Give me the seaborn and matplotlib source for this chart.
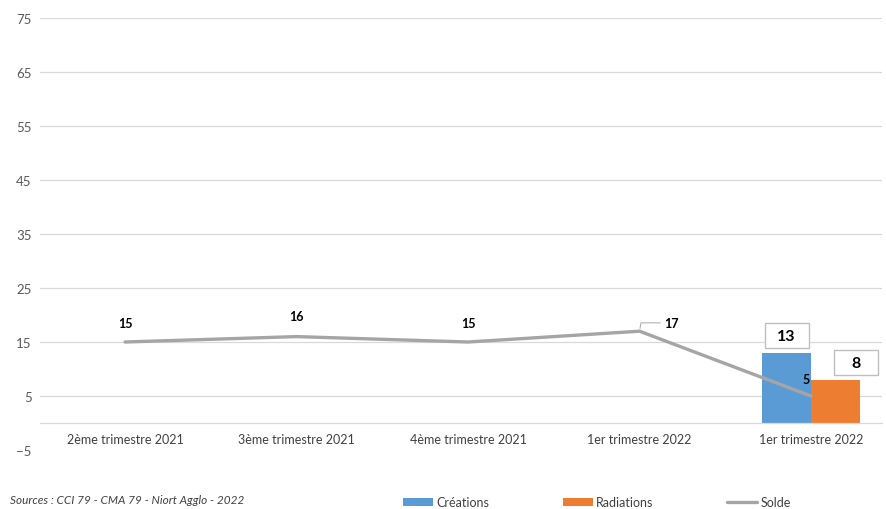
import matplotlib.pyplot as plt
import pandas as pd
import seaborn as sns
from matplotlib.lines import Line2D
from matplotlib.patches import Patch, Rectangle

# data
categories = [
    "2ème trimestre 2021",
    "3ème trimestre 2021",
    "4ème trimestre 2021",
    "1er trimestre 2022",
    "1er trimestre 2022",
]
solde = [15, 16, 15, 17, 5]
bar_series = ["Créations", "Radiations"]
bar_values = [13, 8]
bar_category = 4
y_ticks = [-5, 5, 15, 25, 35, 45, 55, 65, 75]
source = "Sources : CCI 79 - CMA 79 - Niort Agglo - 2022"

BLUE = "#5B9BD5"
ORANGE = "#ED7D31"
GREY = "#A5A5A5"
GRID = "#D9D9D9"

sns.set_theme(style="white")
plt.rcParams["font.family"] = ["Lato", "DejaVu Sans"]

fig = plt.figure(figsize=(8.86, 5.10), dpi=100)
ax = fig.add_axes([40 / 886, 59 / 510, 842 / 886, 432 / 510])

positions = list(range(len(categories)))
line_df = pd.DataFrame({"pos": positions, "Solde": solde})
bars_df = pd.DataFrame({
    "pos": [bar_category] * len(bar_series),
    "serie": bar_series,
    "value": bar_values,
})

# gridlines (the bottom tick is the frame edge, no line drawn there)
for t in y_ticks[1:]:
    ax.axhline(t, color=GRID, lw=0.9, zorder=0)

sns.barplot(data=bars_df, x="pos", y="value", hue="serie", native_scale=True,
            palette=[BLUE, ORANGE], width=0.57, saturation=1, errorbar=None,
            legend=False, linewidth=0, ax=ax, zorder=1)
sns.lineplot(data=line_df, x="pos", y="Solde", color=GREY, linewidth=2.4,
             ax=ax, zorder=3)

ax.set_xlim(-0.496, 4.414)
ax.set_ylim(-5, 75)

# data labels of the line
offsets = [(0, 14), (0, 15), (0, 14), (18, 6), (-1, 12)]
for i, (x, y) in enumerate(zip(positions, solde)):
    dx, dy = offsets[i]
    if dx > 10:
        ax.annotate(str(y), (x, y), xytext=(dx, dy), textcoords="offset points",
                    ha="left", va="center", fontsize=9, fontweight="bold",
                    color="#000000", zorder=4)
        ax.annotate("", (x, y), xytext=(dx - 3, dy), textcoords="offset points",
                    arrowprops=dict(arrowstyle="-", color="#A5A5A5", lw=0.7,
                                    connectionstyle="angle,angleA=0,angleB=80,rad=0",
                                    shrinkA=0, shrinkB=2))
    else:
        ax.annotate(str(y), (x, y), xytext=(dx, dy), textcoords="offset points",
                    ha="center" if dx == 0 else "right", va="center",
                    fontsize=9, fontweight="bold", color="#000000", zorder=4)

# boxed labels of the bars (fixed size boxes, second one pushed right)
box_w = 44 / 171.5      # 44 px in data units
box_h = 4.7
box_shift = [0.0, 21 / 171.5]
for bar, val, shift in zip(ax.patches, bar_values, box_shift):
    cx = bar.get_x() + bar.get_width() / 2 + shift
    y0 = val + 0.8
    ax.add_patch(Rectangle((cx - box_w / 2, y0), box_w, box_h, facecolor="white",
                           edgecolor="#BFBFBF", lw=1.0, zorder=5))
    ax.text(cx, y0 + box_h / 2 - 0.1, str(val), ha="center", va="center",
            fontsize=11.5, fontweight="bold", color="#000000", zorder=6)

ax.set_yticks(y_ticks)
ax.set_xticks(positions)
ax.set_xticklabels(categories)
ax.set_xlabel("")
ax.set_ylabel("")

for side in ["top", "right", "left"]:
    ax.spines[side].set_visible(False)
ax.spines["bottom"].set_position(("data", 0))
ax.spines["bottom"].set_color(GRID)
ax.spines["bottom"].set_linewidth(0.9)
ax.tick_params(axis="x", length=0, pad=7, labelsize=9, labelcolor="#404040")
ax.tick_params(axis="y", length=0, pad=6, labelsize=9.5, labelcolor="#595959")

handles = [
    Patch(facecolor=BLUE, edgecolor="none", label=bar_series[0]),
    Patch(facecolor=ORANGE, edgecolor="none", label=bar_series[1]),
    Line2D([], [], color=GREY, lw=2.4, label="Solde"),
]
fig.legend(handles=handles, loc="lower left", bbox_to_anchor=(392 / 886, -0.02),
           ncol=3, frameon=False, fontsize=9, handlelength=2.4, handleheight=0.6,
           handletextpad=0.25, columnspacing=5.9, labelcolor="#404040")

fig.text(10 / 886, 4 / 510, source, fontsize=8.5, style="italic",
         color="#404040", ha="left", va="bottom")

fig.savefig("out.png", dpi=100)
